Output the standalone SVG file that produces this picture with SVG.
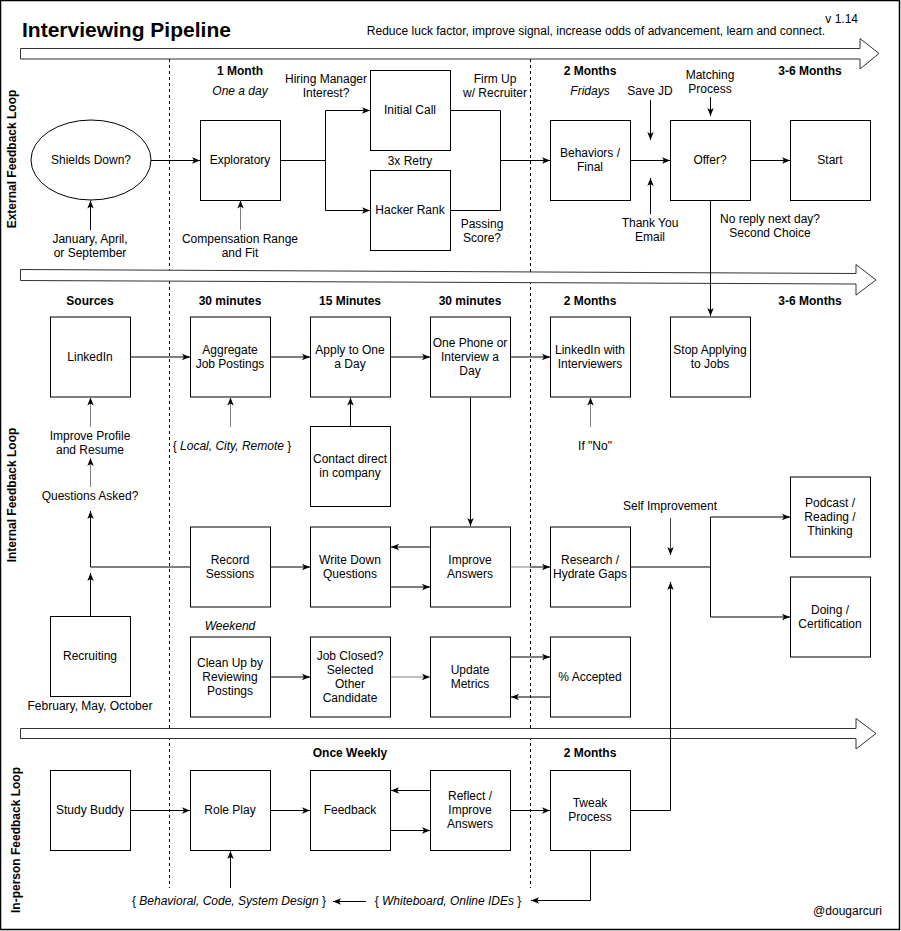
<svg xmlns="http://www.w3.org/2000/svg" width="901" height="931" viewBox="0 0 901 931">
<style>
text{font-family:"Liberation Sans",Arial,Helvetica,sans-serif;font-size:12px;fill:#000}
.c{text-anchor:middle}
.b{font-weight:bold}
.i{font-style:italic}
.n rect,.n ellipse{fill:#fff;stroke:#000;stroke-width:1}
.edges path{fill:none;stroke:#000;stroke-width:1;marker-end:url(#a)}
.edges path.g{stroke:#808080;marker-end:url(#ag)}
.edges path.d{stroke:#444;marker-end:url(#a)}
.edges path.nm{marker-end:none}
.big{fill:#fff;stroke:#333;stroke-width:1}
.dash{stroke:#000;stroke-width:1;stroke-dasharray:3 3;fill:none}
</style>
<defs>
<marker id="a" viewBox="0 0 10 8" refX="10" refY="4" markerWidth="8" markerHeight="7" orient="auto" markerUnits="userSpaceOnUse"><path d="M0,0 L10,4 L0,8 L2.5,4 z" fill="#000"/></marker>
<marker id="ag" viewBox="0 0 10 8" refX="10" refY="4" markerWidth="8" markerHeight="7" orient="auto" markerUnits="userSpaceOnUse"><path d="M0,0 L10,4 L0,8 L2.5,4 z" fill="#000"/></marker>
</defs>
<rect x="0" y="0" width="901" height="931" fill="#fff"/>
<rect x="0.5" y="0.5" width="899" height="929" fill="none" stroke="#000" stroke-width="1.5"/>

<!-- header -->
<text x="22" y="37" class="b" style="font-size:21px">Interviewing Pipeline</text>
<text x="596" y="35" class="c">Reduce luck factor, improve signal, increase odds of advancement, learn and connect.</text>
<text x="858" y="23" style="text-anchor:end">v 1.14</text>

<!-- dashed separators -->
<line class="dash" x1="169.5" y1="59" x2="169.5" y2="888"/>
<line class="dash" x1="530.5" y1="59" x2="530.5" y2="888"/>

<!-- big timeline arrows -->
<polygon class="big" points="20.5,48.5 860,48.5 860,38.5 879,53.5 860,69 860,59 20.5,59"/>
<polygon class="big" points="20.5,269.5 856,273.5 856,264.5 876,280 856,295 856,284 20.5,280.5"/>
<polygon class="big" points="20.5,728.5 856,728.5 856,718.5 876,733.5 856,749 856,738.5 20.5,738.5"/>

<!-- loop labels -->
<text class="c b" transform="translate(16,159) rotate(-90)">External Feedback Loop</text>
<text class="c b" transform="translate(16,495) rotate(-90)">Internal Feedback Loop</text>
<text class="c b" transform="translate(20,840) rotate(-90)">In-person Feedback Loop</text>

<!-- column/time labels -->
<g id="labels">
<text x="240" y="75" class="c b">1 Month</text>
<text x="240" y="95" class="c i">One a day</text>
<text x="326" y="83" class="c">Hiring Manager</text>
<text x="326" y="97" class="c">Interest?</text>
<text x="495" y="83" class="c">Firm Up</text>
<text x="495" y="97" class="c">w/ Recruiter</text>
<text x="410" y="165" class="c">3x Retry</text>
<text x="482" y="228" class="c">Passing</text>
<text x="482" y="242" class="c">Score?</text>
<text x="590" y="75" class="c b">2 Months</text>
<text x="590" y="95" class="c i">Fridays</text>
<text x="650" y="95" class="c">Save JD</text>
<text x="710" y="79" class="c">Matching</text>
<text x="710" y="93" class="c">Process</text>
<text x="650" y="227" class="c">Thank You</text>
<text x="650" y="241" class="c">Email</text>
<text x="770" y="223" class="c">No reply next day?</text>
<text x="770" y="237" class="c">Second Choice</text>
<text x="810" y="75" class="c b">3-6 Months</text>
<text x="90" y="243" class="c">January, April,</text>
<text x="90" y="257" class="c">or September</text>
<text x="240" y="243" class="c">Compensation Range</text>
<text x="240" y="257" class="c">and Fit</text>

<text x="90" y="305" class="c b">Sources</text>
<text x="230" y="305" class="c b">30 minutes</text>
<text x="350" y="305" class="c b">15 Minutes</text>
<text x="470" y="305" class="c b">30 minutes</text>
<text x="590" y="305" class="c b">2 Months</text>
<text x="810" y="305" class="c b">3-6 Months</text>
<text x="90" y="440" class="c">Improve Profile</text>
<text x="90" y="454" class="c">and Resume</text>
<text x="90" y="500" class="c">Questions Asked?</text>
<text x="232" y="450" class="c">{ <tspan class="i">Local, City, Remote</tspan> }</text>
<text x="595" y="450" class="c">If "No"</text>
<text x="670" y="510" class="c">Self Improvement</text>
<text x="230" y="630" class="c i">Weekend</text>
<text x="90" y="710" class="c">February, May, October</text>

<text x="350" y="757" class="c b">Once Weekly</text>
<text x="590" y="757" class="c b">2 Months</text>
<text x="229" y="905" class="c">{ <tspan class="i">Behavioral, Code, System Design</tspan> }</text>
<text x="448" y="905" class="c">{ <tspan class="i">Whiteboard, Online IDEs</tspan> }</text>
<text x="882" y="915" style="text-anchor:end">@dougarcuri</text>
</g>

<!-- nodes: external loop -->
<g id="shields" class="n"><ellipse cx="91" cy="160" rx="60" ry="40"/><text x="91" y="164" class="c">Shields Down?</text></g>
<g id="exploratory" class="n"><rect x="200.5" y="120.5" width="80" height="80"/><text x="240" y="164" class="c">Exploratory</text></g>
<g id="initial-call" class="n"><rect x="370.5" y="70.5" width="80" height="80"/><text x="410" y="114" class="c">Initial Call</text></g>
<g id="hacker-rank" class="n"><rect x="370.5" y="170.5" width="80" height="80"/><text x="410" y="214" class="c">Hacker Rank</text></g>
<g id="behaviors" class="n"><rect x="550.5" y="120.5" width="80" height="80"/><text x="590" y="157" class="c">Behaviors /</text><text x="590" y="171" class="c">Final</text></g>
<g id="offer" class="n"><rect x="670.5" y="120.5" width="80" height="80"/><text x="710" y="164" class="c">Offer?</text></g>
<g id="start" class="n"><rect x="790.5" y="120.5" width="80" height="80"/><text x="830" y="164" class="c">Start</text></g>

<!-- nodes: internal loop -->
<g id="linkedin" class="n"><rect x="50.5" y="317" width="80" height="80"/><text x="90" y="361" class="c">LinkedIn</text></g>
<g id="aggregate" class="n"><rect x="190.5" y="317" width="80" height="80"/><text x="230" y="354" class="c">Aggregate</text><text x="230" y="368" class="c">Job Postings</text></g>
<g id="apply" class="n"><rect x="310.5" y="317" width="80" height="80"/><text x="350" y="354" class="c">Apply to One</text><text x="350" y="368" class="c">a Day</text></g>
<g id="phone" class="n"><rect x="430.5" y="317" width="80" height="80"/><text x="470" y="347" class="c">One Phone or</text><text x="470" y="361" class="c">Interview a</text><text x="470" y="375" class="c">Day</text></g>
<g id="linkedin-interviewers" class="n"><rect x="550.5" y="317" width="80" height="80"/><text x="590" y="354" class="c">LinkedIn with</text><text x="590" y="368" class="c">Interviewers</text></g>
<g id="stop-applying" class="n"><rect x="670.5" y="317" width="80" height="80"/><text x="710" y="354" class="c">Stop Applying</text><text x="710" y="368" class="c">to Jobs</text></g>
<g id="contact" class="n"><rect x="310.5" y="426.5" width="80" height="80"/><text x="350" y="463" class="c">Contact direct</text><text x="350" y="477" class="c">in company</text></g>
<g id="record" class="n"><rect x="190.5" y="527" width="80" height="80"/><text x="230" y="564" class="c">Record</text><text x="230" y="578" class="c">Sessions</text></g>
<g id="write-down" class="n"><rect x="310.5" y="527" width="80" height="80"/><text x="350" y="564" class="c">Write Down</text><text x="350" y="578" class="c">Questions</text></g>
<g id="improve-answers" class="n"><rect x="430.5" y="527" width="80" height="80"/><text x="470" y="564" class="c">Improve</text><text x="470" y="578" class="c">Answers</text></g>
<g id="research" class="n"><rect x="550.5" y="527" width="80" height="80"/><text x="590" y="564" class="c">Research /</text><text x="590" y="578" class="c">Hydrate Gaps</text></g>
<g id="podcast" class="n"><rect x="790.5" y="477" width="80" height="80"/><text x="830" y="507" class="c">Podcast /</text><text x="830" y="521" class="c">Reading /</text><text x="830" y="535" class="c">Thinking</text></g>
<g id="doing" class="n"><rect x="790.5" y="577" width="80" height="80"/><text x="830" y="614" class="c">Doing /</text><text x="830" y="628" class="c">Certification</text></g>
<g id="recruiting" class="n"><rect x="50.5" y="616.5" width="80" height="80"/><text x="90" y="660" class="c">Recruiting</text></g>
<g id="clean-up" class="n"><rect x="190.5" y="637" width="80" height="80"/><text x="230" y="667" class="c">Clean Up by</text><text x="230" y="681" class="c">Reviewing</text><text x="230" y="695" class="c">Postings</text></g>
<g id="job-closed" class="n"><rect x="310.5" y="637" width="80" height="80"/><text x="350" y="660" class="c">Job Closed?</text><text x="350" y="674" class="c">Selected</text><text x="350" y="688" class="c">Other</text><text x="350" y="702" class="c">Candidate</text></g>
<g id="update-metrics" class="n"><rect x="430.5" y="637" width="80" height="80"/><text x="470" y="674" class="c">Update</text><text x="470" y="688" class="c">Metrics</text></g>
<g id="accepted" class="n"><rect x="550.5" y="637" width="80" height="80"/><text x="590" y="681" class="c">% Accepted</text></g>

<!-- nodes: in-person loop -->
<g id="study-buddy" class="n"><rect x="50.5" y="770.5" width="80" height="80"/><text x="90" y="814" class="c">Study Buddy</text></g>
<g id="role-play" class="n"><rect x="190.5" y="770.5" width="80" height="80"/><text x="230" y="814" class="c">Role Play</text></g>
<g id="feedback" class="n"><rect x="310.5" y="770.5" width="80" height="80"/><text x="350" y="814" class="c">Feedback</text></g>
<g id="reflect" class="n"><rect x="430.5" y="770.5" width="80" height="80"/><text x="470" y="800" class="c">Reflect /</text><text x="470" y="814" class="c">Improve</text><text x="470" y="828" class="c">Answers</text></g>
<g id="tweak" class="n"><rect x="550.5" y="770.5" width="80" height="80"/><text x="590" y="807" class="c">Tweak</text><text x="590" y="821" class="c">Process</text></g>

<!-- connectors -->
<g id="connectors" class="edges">
<path d="M151,160.5 H200"/>
<path d="M280.5,160.5 H325.5 V110.5 H370"/>
<path d="M325.5,160.5 V210.5 H370"/>
<path d="M450.5,110.5 H500.5 V160.5 H550"/>
<path class="nm" d="M450.5,210.5 H500.5 V160.5"/>
<path d="M630.5,160.5 H670"/>
<path d="M650.5,100 V140"/>
<path d="M650.5,214 V178"/>
<path d="M710.5,97 V116"/>
<path d="M750.5,160.5 H790"/>
<path d="M710.5,200.5 V316"/>
<path d="M90.5,230 V200.5"/>
<path class="g" d="M240.5,230 V200.5"/>

<path d="M130.5,357 H190"/>
<path d="M270.5,357 H310"/>
<path d="M390.5,357 H430"/>
<path d="M510.5,357 H550"/>
<path class="g" d="M90.5,427 V397.5"/>
<path class="g" d="M90.5,487 V458"/>
<path class="g" d="M230.5,427 V397.5"/>
<path d="M350.5,426 V397.5"/>
<path class="g" d="M590.5,427 V397.5"/>
<path d="M470.5,397.5 V526"/>
<path d="M190.5,567 H90.5 V511"/>
<path d="M90.5,616 V573"/>
<path d="M270.5,567 H310"/>
<path d="M430.5,547 H391"/>
<path d="M390.5,587 H430"/>
<path class="g nm" d="M510.5,567 H530"/>
<path d="M530,567 H550"/>
<path d="M630.5,567 H710.5 V517 H790"/>
<path d="M710.5,567 V617 H790"/>
<path class="d" d="M670.5,518 V555"/>
<path d="M630.5,810.5 H670.5 V582"/>
<path d="M270.5,677 H310"/>
<path class="g" d="M390.5,677 H430"/>
<path d="M510.5,657 H550"/>
<path d="M550.5,697 H511"/>

<path d="M130.5,810.5 H190"/>
<path d="M270.5,810.5 H310"/>
<path d="M430.5,790.5 H391"/>
<path d="M390.5,830.5 H430"/>
<path d="M510.5,810.5 H550"/>
<path d="M230.5,888 V851"/>
<path d="M366,901.5 H333"/>
<path d="M590.5,850.5 V900.5 H531"/>
</g>
</svg>
